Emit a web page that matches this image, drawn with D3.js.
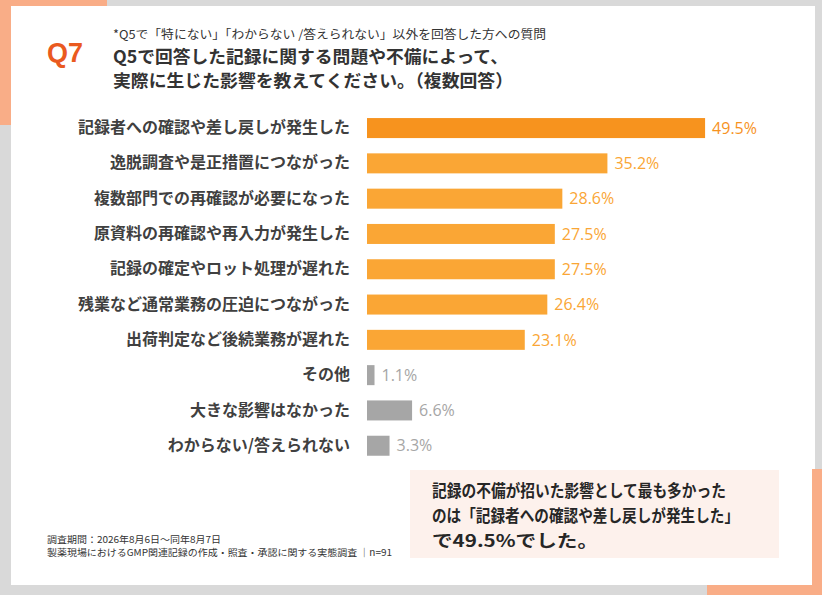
<!DOCTYPE html>
<html lang="ja">
<head>
<meta charset="utf-8">
<script src="https://cdn.jsdelivr.net/npm/d3@7"></script>
<style>
  html, body { margin: 0; padding: 0; background: #d9d9d9; }
  svg { display: block; }
  .jp { font-family: "Noto Sans CJK JP", "Noto Sans", sans-serif; }
</style>
</head>
<body>
<svg id="chart" width="822" height="595"></svg>
<script>
// Q7 回答データ
const categories = [
    '記録者への確認や差し戻しが発生した',
    '逸脱調査や是正措置につながった',
    '複数部門での再確認が必要になった',
    '原資料の再確認や再入力が発生した',
    '記録の確定やロット処理が遅れた',
    '残業など通常業務の圧迫につながった',
    '出荷判定など後続業務が遅れた',
    'その他',
    '大きな影響はなかった',
    'わからない/答えられない'
];
const values = [49.5, 35.2, 28.6, 27.5, 27.5, 26.4, 23.1, 1.1, 6.6, 3.3];
const mutedCategories = ['その他', '大きな影響はなかった', 'わからない/答えられない'];

const subtitleText = '*Q5で「特にない」「わからない /答えられない」以外を回答した方への質問';
const titleLines = [
    'Q5で回答した記録に関する問題や不備によって、',
    '実際に生じた影響を教えてください。（複数回答）'
];
const calloutLines = [
    '記録の不備が招いた影響として最も多かった',
    'のは「記録者への確認や差し戻しが発生した」',
    'で49.5%でした。'
];
const footnoteLines = [
    '調査期間：2026年8月6日～同年8月7日',
    '製薬現場におけるGMP関連記録の作成・照査・承認に関する実態調査 │n=91'
];

const svg = d3.select('#chart');

// 背景カードと角の飾り
svg.append('rect').attr('x', 0).attr('y', 0).attr('width', 822).attr('height', 595).attr('fill', '#d9d9d9');
svg.append('rect').attr('x', 0).attr('y', 0).attr('width', 107).attr('height', 125).attr('fill', '#f9ad87');
svg.append('rect').attr('x', 11).attr('y', 6).attr('width', 804).attr('height', 579).attr('fill', '#ffffff');
svg.append('rect').attr('x', 812).attr('y', 469).attr('width', 10).attr('height', 126).attr('fill', '#f9ad87');
svg.append('rect').attr('x', 707).attr('y', 585).attr('width', 115).attr('height', 10).attr('fill', '#f9ad87');

// タイトル
svg.append('text')
    .attr('x', 47).attr('y', 62)
    .attr('font-family', 'Liberation Sans, Arial, sans-serif')
    .attr('font-weight', 'bold')
    .attr('font-size', 28)
    .attr('textLength', 36)
    .attr('lengthAdjust', 'spacingAndGlyphs')
    .attr('fill', '#ea5a1f')
    .text('Q7');

svg.append('text')
    .attr('class', 'jp')
    .attr('x', 113).attr('y', 39)
    .attr('font-size', 12)
    .attr('textLength', 433)
    .attr('lengthAdjust', 'spacingAndGlyphs')
    .attr('fill', '#333')
    .text(subtitleText);

titleLines.forEach((line, i) => {
    svg.append('text')
        .attr('class', 'jp')
        .attr('x', 113).attr('y', 63 + i * 24)
        .attr('font-size', 17.5)
        .attr('font-weight', 'bold')
        .attr('textLength', i === 0 ? 395 : 400)
        .attr('lengthAdjust', 'spacingAndGlyphs')
        .attr('fill', '#333')
        .text(line);
});

// 棒グラフ
const x = d3.scaleLinear().domain([0, 50]).range([367, 708.5]);
const y = d3.scaleBand()
    .domain(categories)
    .range([110.4, 463.4])
    .paddingInner(0.433)
    .paddingOuter(0.217);

function barColor(d, i) {
    if (mutedCategories.includes(d)) return '#a6a6a6';
    return i === 0 ? '#f7931e' : '#faa635';
}

const yAxis = svg.append('g')
    .attr('transform', `translate(${x(0)},0)`)
    .call(d3.axisLeft(y).tickSize(0).tickPadding(17));
yAxis.select('.domain').remove();
yAxis.selectAll('text')
    .attr('class', 'jp')
    .attr('font-size', 16)
    .attr('font-weight', 'bold')
    .attr('fill', '#404040');

svg.append('g')
    .selectAll('rect')
    .data(categories)
    .join('rect')
    .attr('x', x(0))
    .attr('y', d => y(d))
    .attr('width', (d, i) => x(values[i]) - x(0))
    .attr('height', y.bandwidth())
    .attr('fill', barColor);

svg.append('g')
    .selectAll('text')
    .data(categories)
    .join('text')
    .attr('x', (d, i) => x(values[i]) + 7)
    .attr('y', d => y(d) + y.bandwidth() / 2)
    .attr('dy', '0.36em')
    .attr('font-family', '"Open Sans", sans-serif')
    .attr('font-size', 16)
    .attr('font-weight', 500)
    .attr('fill', barColor)
    .text((d, i) => values[i].toFixed(1) + '%');

// コメント枠
svg.append('rect')
    .attr('x', 410).attr('y', 470)
    .attr('width', 369).attr('height', 88)
    .attr('fill', '#fdf1ec');

const calloutWidths = [294, 307, 166];
calloutLines.forEach((line, i) => {
    svg.append('text')
        .attr('class', 'jp')
        .attr('x', 432).attr('y', 497 + i * 25)
        .attr('font-size', 16.5)
        .attr('font-weight', 'bold')
        .attr('textLength', calloutWidths[i])
        .attr('lengthAdjust', 'spacingAndGlyphs')
        .attr('fill', '#262626')
        .text(line);
});

// 注記
const footnoteWidths = [174, 345];
footnoteLines.forEach((line, i) => {
    svg.append('text')
        .attr('class', 'jp')
        .attr('x', 47).attr('y', 543 + i * 13)
        .attr('font-size', 9.5)
        .attr('textLength', footnoteWidths[i])
        .attr('lengthAdjust', 'spacingAndGlyphs')
        .attr('fill', '#333')
        .text(line);
});
</script>
</body>
</html>
